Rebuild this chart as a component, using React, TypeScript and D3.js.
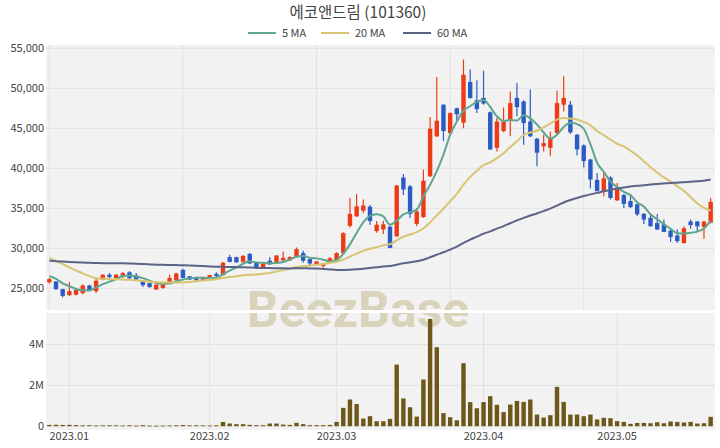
import React from "react";
import * as d3 from "d3";

// ---- Data ----
const opens = [25750,25850,24900,24150,24200,24400,25350,24650,26100,26700,26250,26550,27000,26600,25950,25650,24850,25050,25800,26000,
27300,26500,26400,26000,26300,26800,26650,28900,28900,28300,29300,28200,27600,28450,28300,28500,28500,28900,29400,28650,
28000,27800,28200,28500,29400,32800,34000,34700,35200,32150,32350,32700,31500,38850,37750,33050,33900,39000,44000,47950,
44400,47500,45700,50800,48500,48800,47000,42550,44650,46100,48800,48350,45850,43700,42750,42550,44400,47950,47950,44200,
42850,41100,38550,37050,38850,36000,36650,35900,35500,34300,33800,33150,33000,32200,31600,30650,33350,33350,32650,33200];
const highs = [26300,25900,24950,25800,24850,25500,25450,26300,26750,26900,26750,27050,27150,26900,26000,25700,25500,25700,26700,26950,
27450,26550,26450,26450,26700,27000,28300,29200,28950,29150,29400,28250,28200,28900,29150,29600,29000,30100,29700,28700,
28400,28150,28900,29500,32000,36300,36800,36100,35400,33400,33450,32800,37900,39300,37900,35050,39850,46400,51400,48000,
47000,47600,53600,52350,51000,52200,47100,46300,47600,49600,50650,48500,49850,43800,44200,44600,49700,51500,48400,44300,
43000,41200,39400,39400,39000,38150,36800,36500,35600,34400,34200,34300,33600,32300,32350,32750,33600,33400,33400,36300];
const lows = [25600,24800,23850,24000,24100,24250,24750,24400,26000,26300,26200,26300,26150,26050,25150,25100,24800,24950,25750,25950,
26250,26050,25950,25900,26250,26400,26600,28250,28200,28200,28050,27400,27450,27900,28250,28400,28450,28850,28200,27900,
27900,27350,28100,28400,29300,32600,33900,34400,32950,31950,31800,30000,31400,36650,33800,32750,33800,38900,43900,43400,
44200,45900,45000,48700,46900,47950,42300,42100,44500,44000,46500,42950,43900,40250,42100,41500,44200,47100,44300,41600,
40100,37500,37100,36500,36100,35900,35050,35050,34000,33050,32700,32300,32000,30800,30650,30600,32450,32100,31200,33100];
const closes = [26150,24900,24050,24650,24800,25350,24800,25950,26700,26400,26700,26900,26250,26100,25400,25150,25450,25650,26300,26850,
26300,26100,26000,26350,26650,26550,28200,28300,28250,29050,28100,27500,28050,28000,29100,28800,28900,29900,28450,28100,
28350,28100,28750,29400,31900,34300,35250,35350,33400,32950,33000,30050,37850,37350,34300,34600,38450,44950,45950,44650,
46900,46750,51700,48800,47400,48100,42350,45850,45800,48150,47650,45650,44000,41950,43150,43800,48150,48800,44500,42350,
40900,38600,37150,38750,36300,37500,35550,35150,34250,33600,32750,32350,32050,31400,30900,32500,32900,32750,33350,35800];
const volumes = [65000,70000,60000,65000,55000,40000,45000,35000,40000,45000,40000,35000,45000,30000,50000,30000,25000,30000,35000,45000,
55000,40000,45000,40000,35000,45000,210000,130000,100000,100000,65000,50000,50000,130000,130000,80000,65000,165000,100000,50000,
50000,50000,65000,210000,900000,1310000,1090000,375000,490000,245000,245000,360000,3020000,1360000,930000,470000,2290000,5260000,3870000,640000,
440000,290000,3090000,1180000,880000,1180000,1470000,1050000,690000,1060000,1240000,1190000,1310000,570000,425000,540000,1930000,1190000,570000,570000,
490000,570000,330000,410000,390000,245000,210000,115000,160000,160000,145000,195000,145000,230000,210000,180000,210000,130000,145000,460000];
// closes of the 59 sessions before the window (estimated so the moving averages start where the reference shows them)
const priorCloses = [27000,27300,27600,27200,26900,27100,27500,27800,27400,27200,27000,27300,27700,27900,27600,27400,27200,27500,27600,27450,
27800,28200,28600,29000,29400,29100,28800,29300,29700,30100,29800,29500,29200,29600,29900,29400,29000,28700,28900,28700,
31500,32400,33000,32600,32200,31800,31200,27800,27500,27200,27600,27000,26800,27300,27000,26500,26900,26400,26600];

const monthTickIndex = [3, 24, 43, 65, 85];
const monthTickLabels = ["2023.01", "2023.02", "2023.03", "2023.04", "2023.05"];
const priceTicks = [25000, 30000, 35000, 40000, 45000, 50000, 55000];
const volumeTicks = [0, 2000000, 4000000];
const maPeriods = [5, 20, 60];
const maLabels = ["5 MA", "20 MA", "60 MA"];
const maColors = ["#5fa58f", "#d8c572", "#5b6485"];
const title = "에코앤드림 (101360)";

const UP = "#ee3b17";
const DOWN = "#2b5cc3";
const VOL = "#6d5719";
const FONT = "'Noto Sans CJK KR', 'Noto Sans', sans-serif";

export default function App() {
  const W = 720, H = 448;
  const left = 46, right = 715;
  const topY0 = 45, topY1 = 310;
  const botY0 = 313, botY1 = 430;
  const N = closes.length;

  const x = d3.scaleLinear().domain([-0.5, N - 0.5]).range([left, right - 1]);
  const y = d3.scaleLinear().domain([25000, 55000]).range([288.3, 48.3]);
  const yv = d3.scaleLinear().domain([0, 4000000]).range([426.2, 344.6]);
  const bw = 4.4;

  const all = priorCloses.concat(closes);
  const off = priorCloses.length;
  const maData = maPeriods.map((p) =>
    d3.range(N).map((i) => d3.mean(all.slice(off + i - p + 1, off + i + 1)) as number)
  );
  const line = d3.line<number>().x((_, i) => x(i)).y((v) => y(v)).curve(d3.curveMonotoneX);
  const fmt = d3.format(",");
  const vfmt = (v: number) => (v === 0 ? "0" : v / 1e6 + "M");

  const legendX = [248, 321, 403];

  return (
    <svg width={W} height={H} style={{ position: "absolute", left: 0, top: 0, background: "#fff" }} fontFamily={FONT}>
      {/* panels */}
      <rect x={left} y={topY0} width={right - left} height={topY1 - topY0} fill="#f2f2f2" />
      <rect x={left} y={botY0} width={right - left} height={botY1 - botY0} fill="#f2f2f2" />
      {/* top grid */}
      {priceTicks.map((t) => (
        <line key={"pg" + t} x1={left} x2={right} y1={y(t)} y2={y(t)} stroke="#e2e2e2" strokeWidth={1} />
      ))}
      {d3.range(0, N, 20).map((i) => (
        <line key={"pv" + i} x1={x(i)} x2={x(i)} y1={topY0} y2={topY1} stroke="#e2e2e2" strokeWidth={1} />
      ))}
      {/* bottom grid */}
      {volumeTicks.map((t) => (
        <line key={"vg" + t} x1={left} x2={right} y1={yv(t)} y2={yv(t)} stroke="#e2e2e2" strokeWidth={1} />
      ))}
      {monthTickIndex.map((i) => (
        <line key={"vv" + i} x1={x(i)} x2={x(i)} y1={botY0} y2={botY1} stroke="#e2e2e2" strokeWidth={1} />
      ))}
      {/* watermark */}
      <text x={358} y={327} textAnchor="middle" fontFamily="Roboto, sans-serif" fontWeight={700} fontSize={50} fill="#d9d3bb">
        BeezBase
      </text>
      <rect x={left} y={topY1} width={right - left} height={botY0 - topY1} fill="#fff" />

      {/* candles */}
      {closes.map((c, i) => {
        const o = opens[i];
        const col = c >= o ? UP : DOWN;
        const yt = y(Math.max(o, c));
        const yb = y(Math.min(o, c));
        return (
          <g key={"c" + i}>
            <line x1={x(i)} x2={x(i)} y1={y(highs[i])} y2={y(lows[i])} stroke={col} strokeWidth={1.2} />
            <rect x={x(i) - bw / 2} y={yt} width={bw} height={Math.max(1, yb - yt)} fill={col} />
          </g>
        );
      })}
      {/* moving averages */}
      {maData.map((d, k) => (
        <path key={"ma" + k} d={line(d) || ""} fill="none" stroke={maColors[k]} strokeWidth={2} />
      ))}
      {/* volume */}
      {volumes.map((v, i) => (
        <rect key={"v" + i} x={x(i) - bw / 2} y={yv(v)} width={bw} height={Math.max(0.8, yv(0) - yv(v))} fill={VOL} />
      ))}

      {/* axes labels */}
      {priceTicks.map((t) => (
        <text key={"pt" + t} x={44} y={y(t)} dy="0.35em" textAnchor="end" fontSize={11} fill="#444">
          {fmt(t)}
        </text>
      ))}
      {volumeTicks.map((t) => (
        <text key={"vt" + t} x={44} y={yv(t)} dy="0.35em" textAnchor="end" fontSize={11} fill="#444">
          {vfmt(t)}
        </text>
      ))}
      {monthTickIndex.map((i, k) => (
        <text key={"mt" + i} x={x(i)} y={440} textAnchor="middle" fontSize={11} fill="#444">
          {monthTickLabels[k]}
        </text>
      ))}

      {/* title + legend */}
      <text x={358} y={18} textAnchor="middle" fontSize={15.5} fill="#444">
        {title}
      </text>
      {maLabels.map((l, k) => (
        <g key={"lg" + k}>
          <line x1={legendX[k]} x2={legendX[k] + 28} y1={33} y2={33} stroke={maColors[k]} strokeWidth={2} />
          <text x={legendX[k] + 34} y={33} dy="0.35em" fontSize={11} fill="#444">
            {l}
          </text>
        </g>
      ))}
    </svg>
  );
}
